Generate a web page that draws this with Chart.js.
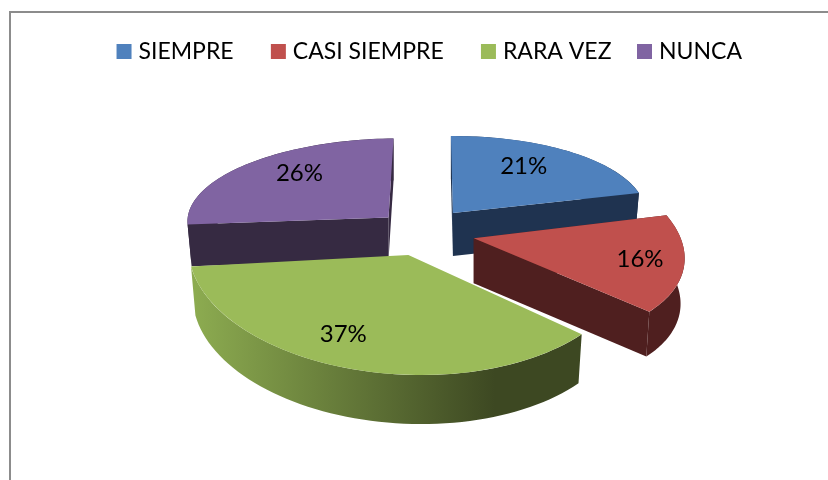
<!DOCTYPE html>
<html>
<head>
<meta charset="utf-8">
<script src="https://cdn.jsdelivr.net/npm/chart.js@4"></script>
<style>
  html, body { margin: 0; padding: 0; background: #fff; overflow: hidden; }
  #frame { position: absolute; left: 9px; top: 11px; width: 830px; height: 480px;
           border-left: 2px solid #8c8c8c; border-top: 2px solid #8c8c8c; }
  canvas { position: absolute; left: 0; top: 0; }
</style>
</head>
<body>
<div id="frame"></div>
<canvas id="pie" width="828" height="480"></canvas>
<script>
const categories = ['SIEMPRE', 'CASI SIEMPRE', 'RARA VEZ', 'NUNCA'];
const percents = [21, 16, 37, 26];

const topColors = ['#4f81bd', '#c0504d', '#9bbb59', '#8064a2'];
const wallColors = ['#1f3350', '#4f1f1f', '#3d4822', '#362a42'];

// legend entries are not evenly spaced in the original
const legendTail = ['  ', '  ', '', ''];

// fake 3d view: each slice gets its own flattening, like the perspective in the picture
const pieCentre = { x: 417, y: 231 };
const explode = [0.30, 0.27, 0.21, 0.22];
const explodeNudge = [[1, 0.5], [0, -0.5], [3, 0], [3, -2]];
const viewMatrix = [
  [192.5, 2, -1, 77],
  [208, 35, 3, 104],
  [219, 20, -4, 120],
  [201, -5, -2, 79],
];
const wallDepth = [43, 45, 49, 42];
const wallTaper = 0.98;
const labelRadius = [0.71, 0.79, 0.74, 0.73];
const labelTurn = [-6, -1, 9, 8];
const drawOrder = [3, 0, 2, 1];

function project(i, el, angle, r, depth) {
  const [mxx, mxy, myx, myy] = viewMatrix[i];
  const mid = (el.startAngle + el.endAngle) / 2;
  const u = explode[i] * Math.cos(mid);
  const v = explode[i] * Math.sin(mid);
  const du = r * Math.cos(angle) * (depth ? wallTaper : 1);
  const dv = r * Math.sin(angle);
  return {
    x: pieCentre.x + explodeNudge[i][0] + mxx * (u + du) + mxy * (v + dv),
    y: pieCentre.y + explodeNudge[i][1] + myx * (u + du) + myy * (v + dv) + depth,
  };
}

function fillPoly(ctx, pts) {
  ctx.beginPath();
  pts.forEach((p, n) => (n ? ctx.lineTo(p.x, p.y) : ctx.moveTo(p.x, p.y)));
  ctx.closePath();
  ctx.fill();
}

function drawWalls(ctx, i, el) {
  const depth = wallDepth[i];
  const steps = 60;
  const pts = [];
  for (let s = 0; s <= steps; s++) {
    const a = el.startAngle + (el.endAngle - el.startAngle) * s / steps;
    pts.push(project(i, el, a, 1, 0));
  }
  for (let s = steps; s >= 0; s--) {
    const a = el.startAngle + (el.endAngle - el.startAngle) * s / steps;
    pts.push(project(i, el, a, 1, depth));
  }

  // the green slice shows no cut faces, only its shaded rim
  if (i === 2) {
    const shade = ctx.createLinearGradient(195, 0, 495, 0);
    shade.addColorStop(0, '#8cab50');
    shade.addColorStop(1, wallColors[2]);
    ctx.fillStyle = shade;
    fillPoly(ctx, pts);
    return;
  }

  ctx.fillStyle = wallColors[i];
  fillPoly(ctx, pts);
  [el.startAngle, el.endAngle].forEach((a) => {
    fillPoly(ctx, [
      project(i, el, a, 0, 0),
      project(i, el, a, 1, 0),
      project(i, el, a, 1, depth),
      project(i, el, a, 0, depth),
    ]);
  });
}

function drawTop(ctx, i, el) {
  const R = el.outerRadius;
  const [mxx, mxy, myx, myy] = viewMatrix[i];
  const apex = project(i, el, 0, 0, 0);
  ctx.save();
  ctx.transform(mxx / R, myx / R, mxy / R, myy / R, apex.x, apex.y);
  ctx.translate(-el.x, -el.y);
  el.draw(ctx);
  ctx.restore();
}

const pie3d = {
  id: 'pie3d',
  beforeDatasetDraw(chart) {
    const ctx = chart.ctx;
    const arcs = chart.getDatasetMeta(0).data;
    drawOrder.forEach((i) => {
      drawWalls(ctx, i, arcs[i]);
      drawTop(ctx, i, arcs[i]);
    });
    ctx.save();
    ctx.fillStyle = '#000';
    ctx.font = '24px Lato';
    ctx.textAlign = 'center';
    ctx.textBaseline = 'middle';
    arcs.forEach((el, i) => {
      const mid = (el.startAngle + el.endAngle) / 2 + labelTurn[i] * Math.PI / 180;
      const p = project(i, el, mid, labelRadius[i], 0);
      ctx.fillText(percents[i] + '%', p.x, p.y);
    });
    ctx.restore();
    return false;
  },
};

new Chart(document.getElementById('pie'), {
  type: 'pie',
  data: {
    labels: categories,
    datasets: [{
      data: percents,
      backgroundColor: topColors,
      borderWidth: 0,
    }],
  },
  options: {
    responsive: false,
    animation: false,
    radius: 100,
    layout: { padding: { top: 10, left: 35 } },
    plugins: {
      tooltip: { enabled: false },
      legend: {
        position: 'top',
        labels: {
          usePointStyle: true,
          pointStyle: 'rect',
          boxWidth: 6,
          boxHeight: 15,
          padding: 30,
          color: '#000',
          font: { family: 'Lato', size: 23 },
          generateLabels(chart) {
            const items = Chart.overrides.pie.plugins.legend.labels.generateLabels(chart);
            items.forEach((item, i) => { item.text += legendTail[i]; });
            return items;
          },
        },
      },
    },
  },
  plugins: [pie3d],
});
</script>
</body>
</html>
